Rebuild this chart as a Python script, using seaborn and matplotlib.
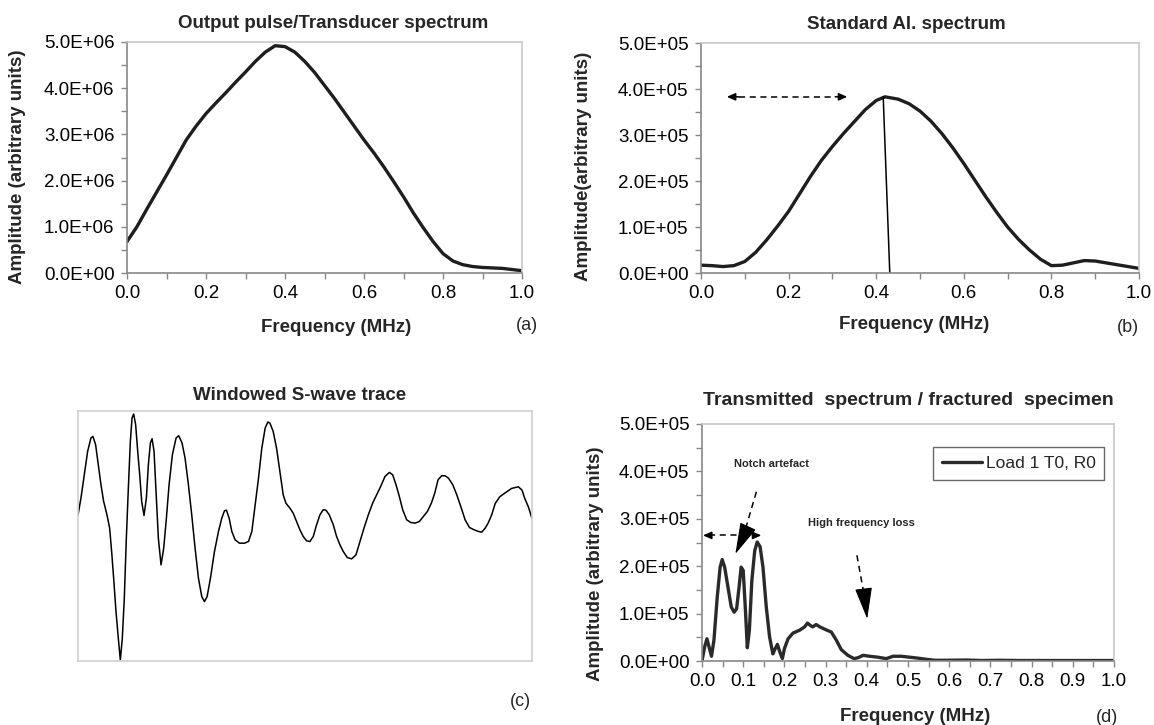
import matplotlib
matplotlib.use("Agg")
import matplotlib.pyplot as plt
import seaborn as sns
import pandas as pd
from matplotlib.ticker import MultipleLocator, FuncFormatter

# (a) output pulse / transducer spectrum
freq_a = [0.0, 0.025, 0.05, 0.075, 0.1, 0.125, 0.15, 0.175, 0.2, 0.225, 0.25, 0.275,
          0.3, 0.325, 0.35, 0.375, 0.4, 0.425, 0.45, 0.475, 0.5, 0.525, 0.55, 0.575,
          0.6, 0.625, 0.65, 0.675, 0.7, 0.725, 0.75, 0.775, 0.8, 0.825, 0.85, 0.875,
          0.9, 0.95, 1.0]
amp_a = [0.68e6, 1.0e6, 1.38e6, 1.75e6, 2.12e6, 2.5e6, 2.88e6, 3.18e6, 3.45e6, 3.68e6,
         3.9e6, 4.13e6, 4.35e6, 4.58e6, 4.78e6, 4.92e6, 4.9e6, 4.78e6, 4.58e6, 4.34e6,
         4.06e6, 3.78e6, 3.48e6, 3.18e6, 2.88e6, 2.6e6, 2.3e6, 1.98e6, 1.65e6, 1.3e6,
         0.98e6, 0.68e6, 0.42e6, 0.26e6, 0.18e6, 0.14e6, 0.12e6, 0.1e6, 0.05e6]

# (b) standard Al. spectrum
freq_b = [0.0, 0.025, 0.05, 0.075, 0.1, 0.125, 0.15, 0.175, 0.2, 0.225, 0.25, 0.275,
          0.3, 0.325, 0.35, 0.375, 0.4, 0.42, 0.45, 0.475, 0.5, 0.525, 0.55, 0.575,
          0.6, 0.625, 0.65, 0.675, 0.7, 0.725, 0.75, 0.775, 0.8, 0.825, 0.85, 0.875,
          0.9, 0.925, 0.95, 0.975, 1.0]
amp_b = [0.17e5, 0.16e5, 0.14e5, 0.16e5, 0.25e5, 0.45e5, 0.72e5, 1.02e5, 1.34e5, 1.72e5,
         2.1e5, 2.45e5, 2.75e5, 3.03e5, 3.29e5, 3.55e5, 3.75e5, 3.83e5, 3.78e5, 3.68e5,
         3.52e5, 3.3e5, 3.03e5, 2.72e5, 2.38e5, 2.02e5, 1.66e5, 1.32e5, 1.0e5, 0.73e5,
         0.5e5, 0.3e5, 0.16e5, 0.17e5, 0.22e5, 0.27e5, 0.26e5, 0.22e5, 0.18e5, 0.14e5,
         0.1e5]

# (c) windowed S-wave trace (arbitrary time / amplitude)
t_c = [0.0, 0.65, 1.38, 2.12, 2.85, 3.29, 3.88, 4.47, 5.06, 5.65, 6.38, 6.97, 7.41,
       7.85, 8.37, 8.88, 9.32, 9.76, 10.2, 10.65, 11.09, 11.53, 11.9, 12.26, 12.7,
       13.15, 13.59, 14.03, 14.54, 15.06, 15.5, 15.94, 16.31, 16.75, 17.19, 17.7,
       18.29, 18.88, 19.47, 20.06, 20.79, 21.6, 22.19, 22.92, 23.58, 24.32, 25.05,
       25.79, 26.53, 27.26, 27.85, 28.44, 29.17, 30.06, 30.94, 31.67, 32.26, 32.7,
       33.29, 33.88, 34.61, 35.57, 36.67, 37.55, 38.29, 39.02, 39.76, 40.49, 41.23,
       41.82, 42.26, 42.99, 43.73, 44.46, 45.2, 45.79, 46.67, 47.4, 48.14, 48.88,
       49.61, 50.35, 51.08, 51.82, 52.55, 53.29, 54.02, 54.61, 55.34, 56.23, 56.96,
       57.7, 58.43, 59.31, 60.27, 61.23, 62.11, 62.99, 63.95, 64.9, 65.79, 66.67,
       67.62, 68.58, 69.31, 70.05, 70.78, 71.52, 72.4, 73.28, 74.24, 75.19, 76.08,
       76.96, 77.84, 78.58, 79.31, 80.12, 80.86, 81.59, 82.55, 83.43, 84.31, 85.27,
       86.22, 87.25, 88.21, 88.94, 89.68, 90.3, 91.1, 91.9, 92.9, 93.9, 95.5, 97.0,
       97.8, 98.4, 99.2, 100.0]
sig_c = [0.0, 0.51, 1.21, 1.91, 2.31, 2.36, 2.11, 1.51, 0.91, 0.41, 0.01, -0.39, -1.09,
         -1.89, -2.89, -3.69, -4.34, -3.69, -2.49, -0.69, 0.81, 2.21, 2.91, 3.03, 2.71,
         1.91, 1.21, 0.41, -0.01, 0.51, 1.51, 2.16, 2.29, 1.91, 0.71, -0.69, -1.49,
         -0.99, -0.09, 0.91, 1.81, 2.31, 2.38, 2.16, 1.71, 0.91, 0.01, -0.99, -1.89,
         -2.44, -2.59, -2.44, -1.89, -1.09, -0.49, -0.09, 0.13, 0.15, -0.09, -0.49,
         -0.74, -0.84, -0.84, -0.79, -0.49, 0.31, 1.11, 2.01, 2.61, 2.79, 2.76, 2.51,
         2.01, 1.31, 0.61, 0.36, 0.21, 0.06, -0.19, -0.44, -0.64, -0.77, -0.79, -0.64,
         -0.29, 0.01, 0.16, 0.15, 0.01, -0.29, -0.64, -0.89, -1.09, -1.27, -1.31, -1.19,
         -0.79, -0.39, 0.01, 0.36, 0.61, 0.86, 1.16, 1.28, 1.21, 0.91, 0.56, 0.16, -0.14,
         -0.22, -0.24, -0.19, -0.04, 0.11, 0.36, 0.66, 1.06, 1.18, 1.18, 1.11, 0.91, 0.61,
         0.26, -0.14, -0.37, -0.44, -0.49, -0.51, -0.39, -0.25, 0.0, 0.35, 0.55, 0.65,
         0.8, 0.85, 0.75, 0.5, 0.25, -0.1]

# (d) transmitted spectrum / fractured specimen
freq_d = [0.0, 0.0065, 0.012, 0.017, 0.023, 0.029, 0.037, 0.044, 0.049, 0.055, 0.063,
          0.071, 0.078, 0.084, 0.09, 0.095, 0.1, 0.105, 0.11, 0.115, 0.121, 0.128,
          0.134, 0.141, 0.148, 0.156, 0.164, 0.172, 0.176, 0.183, 0.189, 0.195, 0.2,
          0.209, 0.221, 0.237, 0.249, 0.256, 0.263, 0.269, 0.277, 0.286, 0.298, 0.314,
          0.326, 0.338, 0.354, 0.369, 0.379, 0.391, 0.407, 0.427, 0.447, 0.464, 0.484,
          0.504, 0.524, 0.545, 0.565, 0.589, 0.643, 0.679, 0.723, 0.768, 0.857, 0.946,
          1.0]
amp_d = [0.0, 0.3e5, 0.47e5, 0.3e5, 0.1e5, 0.44e5, 1.35e5, 1.98e5, 2.14e5, 1.98e5,
         1.56e5, 1.14e5, 1.03e5, 1.1e5, 1.56e5, 1.98e5, 1.91e5, 1.14e5, 0.28e5, 0.65e5,
         1.7e5, 2.33e5, 2.51e5, 2.41e5, 1.98e5, 1.14e5, 0.51e5, 0.15e5, 0.23e5, 0.35e5,
         0.19e5, 0.05e5, 0.26e5, 0.47e5, 0.59e5, 0.65e5, 0.72e5, 0.8e5, 0.75e5, 0.72e5,
         0.77e5, 0.72e5, 0.67e5, 0.61e5, 0.44e5, 0.24e5, 0.12e5, 0.05e5, 0.07e5, 0.12e5,
         0.1e5, 0.08e5, 0.05e5, 0.1e5, 0.1e5, 0.08e5, 0.06e5, 0.035e5, 0.015e5, 0.015e5,
         0.02e5, 0.01e5, 0.015e5, 0.01e5, 0.01e5, 0.01e5, 0.01e5]

sns.set_style("white")
plt.rcParams['font.family'] = ['Liberation Sans', 'DejaVu Sans']

W, H = 1154, 725
fig = plt.figure(figsize=(W / 100, H / 100), dpi=100)


def rect(l, t, r, b):
    return [l / W, 1 - b / H, (r - l) / W, (b - t) / H]


sci = FuncFormatter(lambda v, p: "%.1E" % v)
dash = (0, (4, 3))
small_head = '-|>,head_length=0.5,head_width=0.22'
big_head = '-|>,head_length=2.0,head_width=0.55'


def spectrum_axes(ax, ymax, xmajor, xminor, xlab_pos, ylab_pos, ylabel):
    ax.set_xlim(0, 1)
    ax.set_ylim(0, ymax)
    ax.xaxis.set_major_locator(MultipleLocator(xmajor))
    ax.xaxis.set_minor_locator(MultipleLocator(xminor))
    ax.yaxis.set_major_locator(MultipleLocator(ymax / 5))
    ax.yaxis.set_minor_locator(MultipleLocator(ymax / 10))
    ax.yaxis.set_major_formatter(sci)
    ax.xaxis.set_major_formatter(FuncFormatter(lambda v, p: "%.1f" % v))
    ax.tick_params(which='both', direction='out', length=4, width=1, color='#888888',
                   bottom=True, left=True)
    ax.tick_params(which='major', labelsize=13.5, pad=5, labelcolor='black')
    for s in ['left', 'bottom']:
        ax.spines[s].set_color('#888888')
        ax.spines[s].set_linewidth(1.2)
    for s in ['top', 'right']:
        ax.spines[s].set_color('#c8c8c8')
        ax.spines[s].set_linewidth(1.2)
    ax.set_xlabel('Frequency (MHz)', fontsize=13.5, fontweight='bold')
    ax.set_ylabel(ylabel, fontsize=13.5, fontweight='bold')
    ax.xaxis.set_label_coords(*xlab_pos)
    ax.xaxis.label.set_va('center')
    ax.yaxis.set_label_coords(*ylab_pos)
    ax.yaxis.label.set_va('center')


def double_arrow(ax, x0, x1, y):
    # dashed shaft with two small solid heads
    w = (x1 - x0) * 0.1
    ax.plot([x0 + w, x1 - w], [y, y], color='black', linewidth=1.1, linestyle=dash)
    for a, b in [(x0 + w, x0), (x1 - w, x1)]:
        ax.annotate('', xy=(b, y), xytext=(a, y),
                    arrowprops=dict(arrowstyle=small_head, color='black', lw=1.1,
                                    shrinkA=0, shrinkB=0))


def dashed_pointer(ax, start, base, tip):
    ax.plot([start[0], base[0]], [start[1], base[1]], color='black', linewidth=1.1,
            linestyle=dash)
    ax.annotate('', xy=tip, xytext=base,
                arrowprops=dict(arrowstyle=big_head, color='black', lw=0.8,
                                shrinkA=0, shrinkB=0))


# ---- (a)
ax1 = fig.add_axes(rect(127, 42, 522, 273))
df_a = pd.DataFrame({'f': freq_a, 'amp': amp_a})
sns.lineplot(data=df_a, x='f', y='amp', ax=ax1, color='#1e1e1e', linewidth=2.4)
spectrum_axes(ax1, 5e6, 0.2, 0.1, (0.53, -0.238), (-0.276, 0.46),
              'Amplitude (arbitrary units)')
ax1.set_title('Output pulse/Transducer spectrum', fontsize=13.5, fontweight='bold',
              pad=10, x=0.523)
fig.text(527 / W, 1 - 325 / H, '(a)', fontsize=13, ha='center', va='center')

# ---- (b)
ax2 = fig.add_axes(rect(701, 43, 1139, 273))
df_b = pd.DataFrame({'f': freq_b, 'amp': amp_b})
sns.lineplot(data=df_b, x='f', y='amp', ax=ax2, color='#1e1e1e', linewidth=2.4)
spectrum_axes(ax2, 5e5, 0.2, 0.1, (0.487, -0.226), (-0.268, 0.465),
              'Amplitude(arbitrary units)')
ax2.set_title('Standard Al. spectrum', fontsize=13.5, fontweight='bold', pad=10, x=0.468)
ax2.plot([0.416, 0.431], [3.83e5, 0], color='black', linewidth=1.1)
double_arrow(ax2, 0.059, 0.334, 3.83e5)
fig.text(1128 / W, 1 - 328 / H, '(b)', fontsize=13, ha='center', va='center')

# ---- (c)
ax3 = fig.add_axes(rect(78, 411, 532, 661))
df_c = pd.DataFrame({'t': t_c, 's': sig_c})
sns.lineplot(data=df_c, x='t', y='s', ax=ax3, color='black', linewidth=1.1)
ax3.set_xlim(0, 100)
ax3.set_ylim(-4.37, 3.12)
ax3.set_xticks([])
ax3.set_yticks([])
ax3.set_xlabel('')
ax3.set_ylabel('')
for s in ax3.spines.values():
    s.set_color('#d0d0d0')
    s.set_linewidth(1.2)
ax3.set_title('Windowed S-wave trace', fontsize=13.5, fontweight='bold', pad=8, x=0.487)
fig.text(520 / W, 1 - 701 / H, '(c)', fontsize=13, ha='center', va='center')

# ---- (d)
ax4 = fig.add_axes(rect(702, 424, 1114, 661))
df_d = pd.DataFrame({'f': freq_d, 'amp': amp_d})
sns.lineplot(data=df_d, x='f', y='amp', ax=ax4, color='#2a2a2a', linewidth=2.4,
             label='Load 1 T0, R0')
spectrum_axes(ax4, 5e5, 0.1, 0.05, (0.518, -0.236), (-0.259, 0.41),
              'Amplitude (arbitrary units)')
ax4.set_title('Transmitted  spectrum / fractured  specimen', fontsize=14,
              fontweight='bold', pad=14)
leg = ax4.legend(loc='upper right', bbox_to_anchor=(0.976, 0.903), borderaxespad=0,
                 fontsize=12.5, frameon=True, fancybox=False, handlelength=2.3,
                 handletextpad=0.2, borderpad=0.5)
leg.get_frame().set_edgecolor('#444444')
leg.get_frame().set_linewidth(1.0)

double_arrow(ax4, 0.0024, 0.144, 2.65e5)
dashed_pointer(ax4, (0.132, 3.57e5), (0.1, 2.62e5), (0.081, 2.26e5))
dashed_pointer(ax4, (0.376, 2.23e5), (0.395, 1.32e5), (0.401, 0.89e5))
ax4.text(0.168, 4.15e5, 'Notch artefact', fontsize=8, fontweight='bold',
         ha='center', va='center')
ax4.text(0.388, 2.91e5, 'High frequency loss', fontsize=8, fontweight='bold',
         ha='center', va='center')
fig.text(1107 / W, 1 - 717 / H, '(d)', fontsize=13, ha='center', va='center')

fig.savefig('out.png', dpi=100)
